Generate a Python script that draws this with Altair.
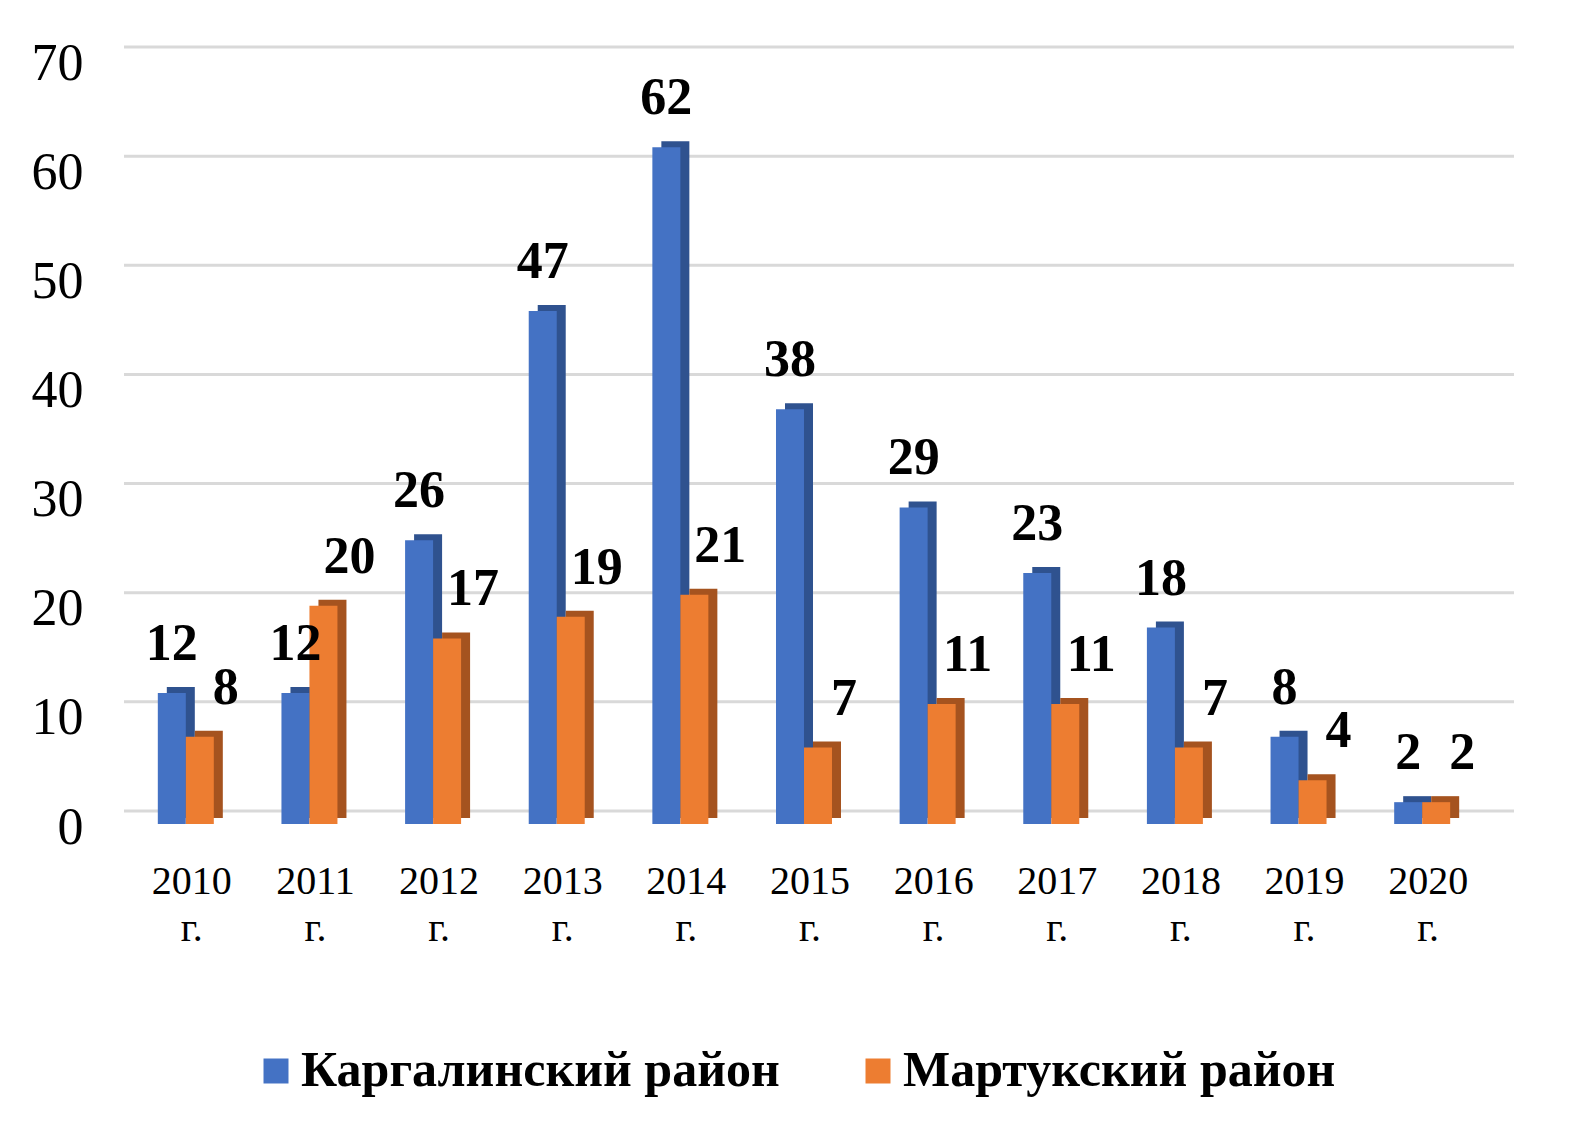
import altair as alt
import pandas as pd

years = ["2010 г.", "2011 г.", "2012 г.", "2013 г.", "2014 г.", "2015 г.",
         "2016 г.", "2017 г.", "2018 г.", "2019 г.", "2020 г."]
series = ["Каргалинский район", "Мартукский район"]
kargaly = [12, 12, 26, 47, 62, 38, 29, 23, 18, 8, 2]
martuk = [8, 20, 17, 19, 21, 7, 11, 11, 7, 4, 2]
y_ticks = [0, 10, 20, 30, 40, 50, 60, 70]

colors = ["#4472c4", "#ed7d31"]
dark = ["#2f528f", "#a5531f"]
FONT = "Liberation Serif"

df = pd.DataFrame({
    "year": years * 2,
    "series": [series[0]] * len(years) + [series[1]] * len(years),
    "value": kargaly + martuk,
})
grid_df = pd.DataFrame({"value": y_ticks})

x = alt.X("year:N", sort=years,
          scale=alt.Scale(paddingInner=0.547, paddingOuter=0.2735),
          axis=alt.Axis(title=None, labelExpr="split(datum.label, ' ')",
                        labelFont=FONT, labelFontSize=40, labelColor="#000",
                        labelPadding=37, labelLineHeight=47, domain=False,
                        ticks=False, labelAngle=0, labelBaseline="top",
                        labelOffset=6, grid=False))
y = alt.Y("value:Q", scale=alt.Scale(domain=[0, 70], nice=False),
          axis=alt.Axis(title=None, values=y_ticks, labelFont=FONT,
                        labelFontSize=52, labelColor="#000", labelPadding=41,
                        labelOffset=3, domain=False, ticks=False, grid=False))


def xoff(rng):
    return alt.XOffset("series:N", sort=series,
                       scale=alt.Scale(domain=series, range=rng,
                                       paddingInner=0, paddingOuter=0))


def toff():
    return alt.XOffset("series:N", sort=series,
                       scale=alt.Scale(type="point", domain=series,
                                       range=[14, 42], padding=0))


grid = alt.Chart(grid_df).mark_rule(
    color="#d9d9d9", strokeWidth=3, yOffset=-13, xOffset=30, x2Offset=32
).encode(y=y)

depth = alt.Chart(df).mark_bar(yOffset=-6, y2Offset=-6).encode(
    x=x, y=y, xOffset=xoff([9, 65]),
    color=alt.Color("series:N", scale=alt.Scale(domain=series, range=dark),
                    legend=None),
)

front = alt.Chart(df).mark_bar().encode(
    x=x, y=y, xOffset=xoff([0, 56]),
    color=alt.Color("series:N", scale=alt.Scale(domain=series, range=colors),
                    legend=alt.Legend(title=None, orient="none", legendX=127,
                                      legendY=986, direction="horizontal",
                                      symbolType="square", symbolSize=625,
                                      symbolStrokeWidth=0, labelFont=FONT,
                                      labelFontSize=50, labelFontWeight="bold",
                                      labelColor="#000", labelLimit=800,
                                      labelOffset=0, columnPadding=73,
                                      padding=0)),
)

lab_k = alt.Chart(df).transform_filter(alt.datum.series == series[0]).mark_text(
    font=FONT, fontSize=52, fontWeight="bold", baseline="middle", dy=-49,
    color="#000").encode(x=x, y=y, xOffset=toff(), text="value:Q")

lab_m = alt.Chart(df).transform_filter(alt.datum.series == series[1]).mark_text(
    font=FONT, fontSize=52, fontWeight="bold", baseline="middle", dy=-49,
    dx=26, color="#000").encode(x=x, y=y, xOffset=toff(), text="value:Q")

chart = alt.layer(grid, depth, front, lab_k, lab_m).resolve_scale(
    color="independent", xOffset="independent"
).properties(
    width=1360, height=764, autosize="none",
    padding={"left": 116, "top": 52, "right": 93, "bottom": 309},
    background="white",
).configure_view(stroke=None)

chart.save("out.html", embed_options={"renderer": "svg", "actions": False})
